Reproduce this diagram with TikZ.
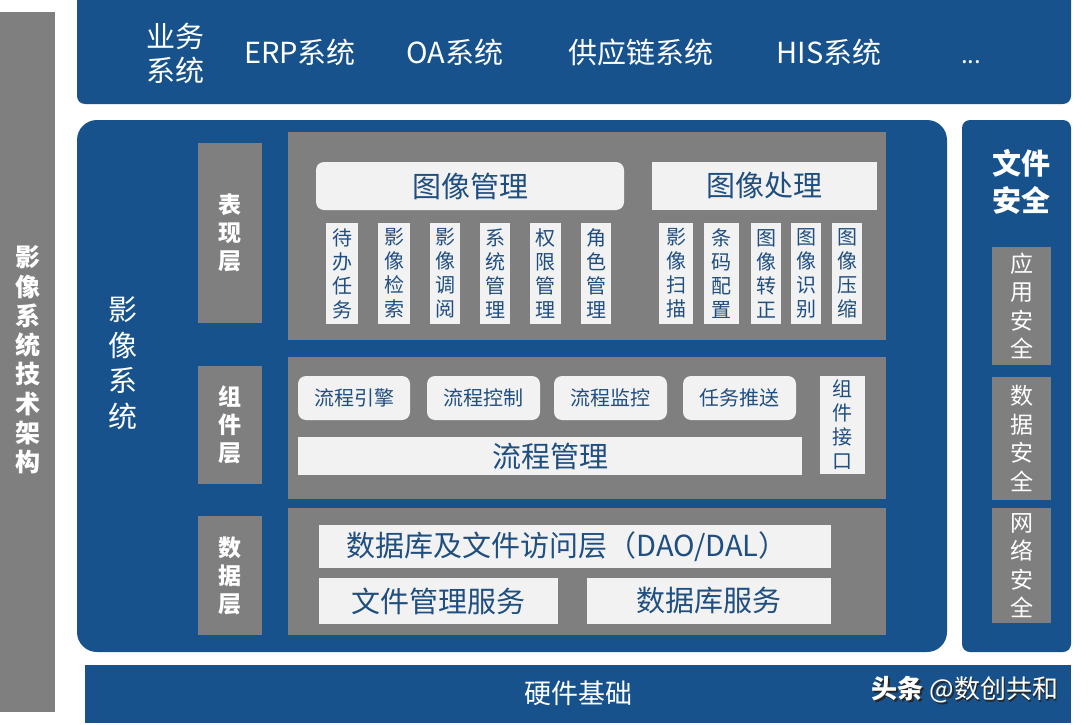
\documentclass[tikz,border=0pt]{standalone}
\usepackage{fontspec}
\setmainfont{Noto Sans CJK SC}
\definecolor{bluec}{HTML}{17528C}
\definecolor{grayc}{HTML}{7F7F7F}
\definecolor{lightc}{HTML}{F2F2F2}
\definecolor{darkc}{HTML}{1F4E80}
\begin{document}
\begin{tikzpicture}[x=1pt,y=-1pt,
  box/.style={anchor=north west, inner sep=0pt, outer sep=0pt, align=center},
  bluebox/.style={box, fill=bluec},
  graybox/.style={box, fill=grayc},
  lightbox/.style={box, fill=lightc, text=darkc},
  vsmall/.style={lightbox, minimum height=101pt, font=\fontsize{20}{24}\selectfont},
  pill/.style={lightbox, rounded corners=8pt, minimum width=113pt, minimum height=44pt, font=\fontsize{20}{24}\selectfont},
  layerlbl/.style={graybox, minimum width=64pt, text=white, font=\bfseries\fontsize{23}{28}\selectfont},
  secbox/.style={graybox, minimum width=59pt, text=white, font=\fontsize{23}{28.5}\selectfont},
  toptxt/.style={text=white, inner sep=0pt, align=center, font=\fontsize{29}{34}\selectfont}
]
\useasboundingbox (0,0) rectangle (1089,725);
\fill[white] (0,0) rectangle (1089,725);

% left bar
\node[graybox, minimum width=55pt, minimum height=700pt] (leftbar) at (0,12) {};
\node[text=white, inner sep=0pt, align=center, font=\bfseries\fontsize{25}{29.3}\selectfont] (lefttxt) at (28,360) {影\\像\\系\\统\\技\\术\\架\\构};

% top business systems
\node[bluebox, rounded corners=8pt, minimum width=994pt, minimum height=116pt] (top) at (77,-12) {};
\node[toptxt] (yw) at (175,53) {业务\\系统};
\node[toptxt] (erp) at (300,52) {ERP系统};
\node[toptxt] (oa) at (455,52) {OA系统};
\node[toptxt] (gyl) at (641,52) {供应链系统};
\node[toptxt] (his) at (829,52) {HIS系统};
\node[text=white, inner sep=0pt, font=\fontsize{24}{28}\selectfont] (dots) at (971,62) {...};

% main box
\node[bluebox, rounded corners=20pt, minimum width=870pt, minimum height=532pt] (main) at (77,120) {};
\node[text=white, inner sep=0pt, align=center, font=\fontsize{29}{35.5}\selectfont] (yxxt) at (123,363) {影\\像\\系\\统};

% layer labels
\node[layerlbl, minimum height=180pt] (bxc) at (198,143) {表\\现\\层};
\node[layerlbl, minimum height=118pt] (zjc) at (198,366) {组\\件\\层};
\node[layerlbl, minimum height=119pt] (sjc) at (198,516) {数\\据\\层};

% panels
\node[graybox, minimum width=598pt, minimum height=208pt] (p1) at (288,132) {};
\node[graybox, minimum width=598pt, minimum height=142pt] (p2) at (288,357) {};
\node[graybox, minimum width=598pt, minimum height=127pt] (p3) at (288,508) {};

% panel 1
\node[lightbox, rounded corners=8pt, minimum width=308pt, minimum height=48pt, font=\fontsize{29}{34}\selectfont] (txgl) at (316,162) {图像管理};
\node[lightbox, minimum width=225pt, minimum height=48pt, font=\fontsize{29}{34}\selectfont] (txcl) at (652,162) {图像处理};
\node[vsmall, minimum width=32pt] (s1) at (326,223) {待\\办\\任\\务};
\node[vsmall, minimum width=32pt] (s2) at (378,223) {影\\像\\检\\索};
\node[vsmall, minimum width=30pt] (s3) at (430,223) {影\\像\\调\\阅};
\node[vsmall, minimum width=30pt] (s4) at (480,223) {系\\统\\管\\理};
\node[vsmall, minimum width=31pt] (s5) at (530,223) {权\\限\\管\\理};
\node[vsmall, minimum width=30pt] (s6) at (581,223) {角\\色\\管\\理};
\node[vsmall, minimum width=34pt] (s7) at (659,223) {影\\像\\扫\\描};
\node[vsmall, minimum width=35pt] (s8) at (704,223) {条\\码\\配\\置};
\node[vsmall, minimum width=30pt] (s9) at (751,223) {图\\像\\转\\正};
\node[vsmall, minimum width=30pt] (s10) at (791,223) {图\\像\\识\\别};
\node[vsmall, minimum width=30pt] (s11) at (832,223) {图\\像\\压\\缩};

% panel 2
\node[pill, minimum width=112pt] (lcyq) at (298,376) {流程引擎};
\node[pill] (lckz) at (427,376) {流程控制};
\node[pill] (lcjk) at (554,376) {流程监控};
\node[pill] (rwts) at (683,376) {任务推送};
\node[lightbox, minimum width=45pt, minimum height=98pt, font=\fontsize{20}{24}\selectfont] (zjjk) at (820,376) {组\\件\\接\\口};
\node[lightbox, minimum width=504pt, minimum height=38pt, font=\fontsize{29}{34}\selectfont] (lcgl) at (298,437) {流程管理};

% panel 3
\node[lightbox, minimum width=512pt, minimum height=43pt, font=\fontsize{29}{34}\selectfont] (dao) at (319,525) {\hspace*{-16pt}数据库及文件访问层（DAO/DAL）};
\node[lightbox, minimum width=239pt, minimum height=46pt, font=\fontsize{29}{34}\selectfont] (wjgl) at (319,578) {文件管理服务};
\node[lightbox, minimum width=244pt, minimum height=46pt, font=\fontsize{29}{34}\selectfont] (sjk) at (587,578) {数据库服务};

% right security box
\node[bluebox, rounded corners=8pt, minimum width=109pt, minimum height=532pt] (sec) at (962,120) {};
\node[text=white, inner sep=0pt, align=center, font=\bfseries\fontsize{29}{37}\selectfont] (wjaq) at (1021,182) {文件\\安全};
\node[secbox, minimum height=118pt] (yyaq) at (992,247) {应\\用\\安\\全};
\node[secbox, minimum height=123pt] (sjaq) at (992,377) {数\\据\\安\\全};
\node[secbox, minimum height=115pt] (wlaq) at (992,508) {网\\络\\安\\全};

% bottom hardware
\node[bluebox, minimum width=986pt, minimum height=58pt] (hw) at (85,665) {};
\node[text=white, inner sep=0pt, font=\fontsize{27}{32}\selectfont] (yjjc) at (578,693) {硬件基础};
\node[text=black!85, inner sep=0pt, font=\fontsize{26}{30}\selectfont] (wmshadow) at (966.5,691.5) {\textbf{头条} @数创共和};
\node[text=white, inner sep=0pt, font=\fontsize{26}{30}\selectfont] (wm) at (965,690) {\textbf{头条} @数创共和};
\end{tikzpicture}
\end{document}
